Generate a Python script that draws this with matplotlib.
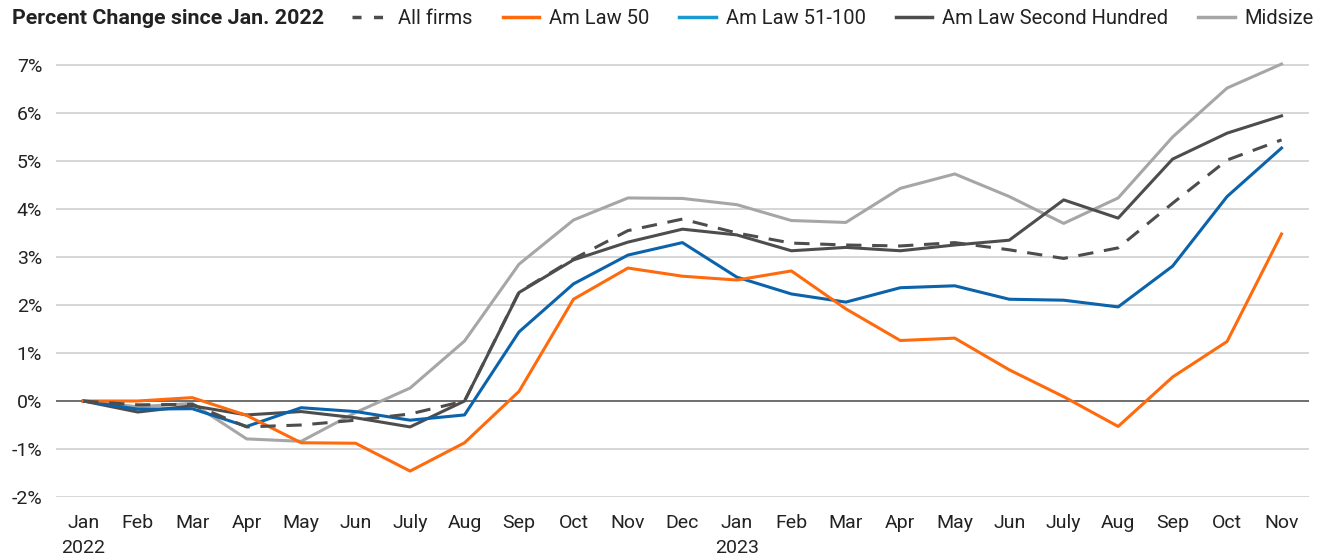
import matplotlib
matplotlib.use("Agg")
import matplotlib.pyplot as plt
from matplotlib.lines import Line2D

plt.rcParams['font.family'] = ['Roboto', 'DejaVu Sans']

months = ["Jan", "Feb", "Mar", "Apr", "May", "Jun", "July", "Aug", "Sep", "Oct", "Nov", "Dec",
          "Jan", "Feb", "Mar", "Apr", "May", "Jun", "July", "Aug", "Sep", "Oct", "Nov"]
years = {0: "2022", 12: "2023"}

all_firms = [0, -0.08, -0.07, -0.54, -0.5, -0.4, -0.27, 0.0, 2.27, 2.96, 3.55, 3.79,
             3.5, 3.29, 3.25, 3.23, 3.3, 3.15, 2.97, 3.19, 4.12, 5.02, 5.44]
amlaw50 = [0, 0.0, 0.07, -0.3, -0.87, -0.88, -1.46, -0.87, 0.2, 2.12, 2.77, 2.6,
           2.52, 2.71, 1.92, 1.26, 1.31, 0.65, 0.09, -0.53, 0.5, 1.24, 3.48]
amlaw51_100 = [0, -0.17, -0.16, -0.53, -0.14, -0.22, -0.4, -0.29, 1.44, 2.44, 3.04, 3.3,
               2.58, 2.23, 2.06, 2.36, 2.4, 2.12, 2.1, 1.96, 2.81, 4.26, 5.27]
second_hundred = [0, -0.23, -0.1, -0.29, -0.22, -0.35, -0.54, 0.0, 2.26, 2.94, 3.31, 3.58,
                  3.46, 3.13, 3.2, 3.13, 3.25, 3.35, 4.19, 3.81, 5.04, 5.58, 5.94]
midsize = [0, -0.12, -0.05, -0.79, -0.84, -0.24, 0.27, 1.25, 2.85, 3.77, 4.23, 4.22,
           4.09, 3.76, 3.72, 4.43, 4.73, 4.26, 3.7, 4.23, 5.5, 6.52, 7.02]

yticks = [-2, -1, 0, 1, 2, 3, 4, 5, 6, 7]

c_orange = "#ff6a0d"
c_blue = "#0b63ab"
c_blue_leg = "#1a9bd0"
c_dark = "#4d4d4d"
c_light = "#a6a6a6"
c_text = "#222222"

fig = plt.figure(figsize=(13.22, 5.6), dpi=100)
ax = fig.add_axes([0.0424, 0.1125, 0.9476, 0.78])

x = list(range(len(months)))
ax.set_xlim(-0.5, 22.5)
ax.set_ylim(-2, 7.1)

for v in yticks:
    if v != 0:
        ax.axhline(v, color="#d0d0d0", lw=1.2, zorder=1)
ax.axhline(0, color="#555555", lw=1.2, zorder=2)

lw = 2.2
ax.plot(x, midsize, color=c_light, lw=lw, zorder=3, clip_on=False)
ax.plot(x, second_hundred, color=c_dark, lw=lw, zorder=4, clip_on=False)
ax.plot(x, amlaw51_100, color=c_blue, lw=lw, zorder=5, clip_on=False)
ax.plot(x, amlaw50, color=c_orange, lw=lw, zorder=6, clip_on=False)
ax.plot(x, all_firms, color=c_dark, lw=lw, ls=(0, (5, 3.5)), zorder=7, clip_on=False)

for s in ax.spines.values():
    s.set_visible(False)

ax.set_yticks(yticks)
ax.set_yticklabels([f"{v}%" for v in yticks], fontsize=14, color=c_text)
ax.tick_params(axis='y', length=0, pad=10)
ax.set_xticks(x)
ax.set_xticklabels(months, fontsize=14, color=c_text)
ax.tick_params(axis='x', length=0, pad=12)
for i, yr in years.items():
    ax.text(i, -0.117, yr, transform=ax.get_xaxis_transform(), ha="center", va="center",
            fontsize=14, color=c_text)

fig.text(0.009, 0.967, "Percent Change since Jan. 2022", fontsize=15.4, fontweight="bold",
         color=c_text, ha="left", va="center")

handles = [
    Line2D([], [], color=c_dark, lw=2.5, ls=(0, (2.6, 3.6))),
    Line2D([], [], color=c_orange, lw=2.5),
    Line2D([], [], color=c_blue_leg, lw=2.5),
    Line2D([], [], color=c_dark, lw=2.5),
    Line2D([], [], color=c_light, lw=2.5),
]
labels = ["All firms", "Am Law 50", "Am Law 51-100", "Am Law Second Hundred", "Midsize"]
fig.legend(handles, labels, loc="center right", bbox_to_anchor=(0.994, 0.967), ncol=5,
           frameon=False, fontsize=14.5, handlelength=1.8, handletextpad=0.5,
           columnspacing=1.5, labelcolor=c_text, borderaxespad=0, borderpad=0)

fig.savefig("out.png", dpi=100, facecolor="white")
